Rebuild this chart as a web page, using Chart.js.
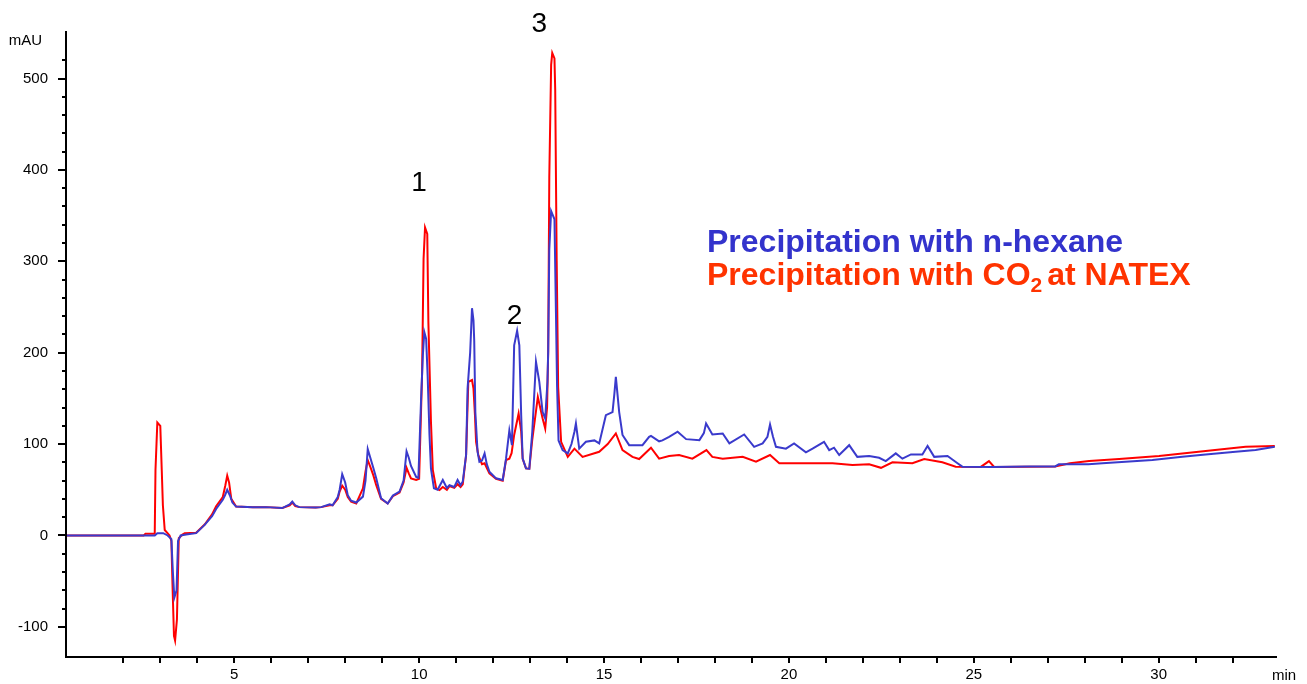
<!DOCTYPE html>
<html>
<head>
<meta charset="utf-8">
<script src="https://cdn.jsdelivr.net/npm/chart.js@4"></script>
<style>
  html, body { margin: 0; padding: 0; background: #fff; }
  canvas { display: block; }
</style>
</head>
<body>
<canvas id="chrom" width="1307" height="684"></canvas>
<script>
// retention time (min) and absorbance (mAU), n-hexane run
const hexTime = [0.45, 2.85, 2.92, 3.08, 3.2, 3.3, 3.34, 3.38, 3.44, 3.48, 3.55, 3.7, 3.97, 4.2, 4.4, 4.51, 4.69, 4.75, 4.81, 4.88, 4.95, 5.05, 5.5, 5.86, 6.3, 6.5, 6.57, 6.65, 6.76, 7.2, 7.35, 7.58, 7.66, 7.8, 7.85, 7.92, 8.0, 8.07, 8.16, 8.3, 8.48, 8.55, 8.61, 8.68, 8.76, 8.84, 8.97, 9.15, 9.29, 9.47, 9.58, 9.66, 9.72, 9.78, 9.92, 9.98, 10.05, 10.1, 10.14, 10.19, 10.23, 10.28, 10.32, 10.4, 10.5, 10.64, 10.75, 10.82, 10.95, 11.04, 11.12, 11.18, 11.27, 11.31, 11.38, 11.43, 11.47, 11.49, 11.52, 11.58, 11.63, 11.7, 11.77, 11.83, 11.9, 12.08, 12.26, 12.35, 12.44, 12.51, 12.57, 12.65, 12.71, 12.76, 12.8, 12.89, 12.98, 13.06, 13.16, 13.25, 13.34, 13.41, 13.47, 13.49, 13.52, 13.57, 13.62, 13.66, 13.7, 13.73, 13.77, 13.88, 14.02, 14.12, 14.2, 14.24, 14.33, 14.51, 14.74, 14.87, 15.05, 15.23, 15.28, 15.32, 15.41, 15.5, 15.68, 15.95, 16.04, 16.22, 16.27, 16.49, 16.58, 16.76, 16.99, 17.22, 17.58, 17.7, 17.76, 17.93, 18.21, 18.39, 18.79, 19.06, 19.29, 19.42, 19.49, 19.57, 19.65, 19.92, 20.14, 20.46, 20.64, 20.95, 21.09, 21.22, 21.36, 21.63, 21.85, 22.17, 22.44, 22.62, 22.89, 23.07, 23.3, 23.61, 23.75, 23.93, 24.29, 24.56, 24.69, 25.5, 26.5, 27.2, 27.3, 28.1, 28.48, 29.83, 30.64, 31.27, 32.08, 32.62, 33.14];
const hexMAU = [0, 0, 2.5, 2.5, 0, -4, -40, -68, -60, -6, 0, 1, 2.5, 11.6, 21, 29, 39, 44, 50, 44, 36, 31.6, 31, 31, 30, 34, 37, 33, 31, 30.5, 31, 34, 33, 42, 50, 67, 58, 44, 38, 36, 42.5, 60, 94.5, 85, 74, 62.5, 40.7, 35, 43.6, 48, 60, 92, 85, 76, 64, 63, 146, 197, 222.5, 215, 175, 110, 73, 51.6, 50, 60.7, 52, 55, 53, 60.7, 55, 59, 88, 160.7, 200, 248.7, 235, 213, 135, 91.6, 80.7, 82, 89.8, 78, 69.8, 62.5, 60.7, 84, 115, 98.8, 208, 224, 208, 131.6, 84, 73.4, 73, 113.5, 190, 168, 135, 128, 168, 200.7, 313, 355, 350, 346, 244, 164, 104, 93.4, 89.8, 100, 113.5, 122.5, 95, 102.5, 104, 100.7, 131.6, 135, 155, 173.5, 135, 110, 98.8, 98.8, 98.8, 108, 109, 103, 104, 108, 113.5, 105.4, 104.3, 112, 122.5, 110.5, 111.6, 100.7, 110.5, 97, 100.7, 108, 121.4, 108, 97, 95, 100.7, 91, 95, 102.5, 93.4, 96, 88, 98.8, 86, 87, 85, 81.4, 89.8, 84, 88.7, 88.7, 98, 86, 87, 79, 75.3, 75, 75.5, 75.5, 77.8, 77.8, 79, 82.5, 86, 88.7, 91.6, 93.4, 97];

// CO2 precipitation run
const co2Time = [0.45, 2.55, 2.6, 2.85, 2.87, 2.92, 3.0, 3.04, 3.07, 3.12, 3.25, 3.3, 3.33, 3.37, 3.4, 3.45, 3.5, 3.6, 3.66, 3.97, 4.2, 4.4, 4.51, 4.69, 4.76, 4.81, 4.86, 4.92, 5.05, 5.5, 5.86, 6.3, 6.5, 6.57, 6.65, 6.76, 7.2, 7.35, 7.58, 7.66, 7.8, 7.85, 7.92, 8.0, 8.07, 8.16, 8.3, 8.48, 8.55, 8.61, 8.68, 8.76, 8.84, 8.97, 9.15, 9.29, 9.47, 9.58, 9.66, 9.72, 9.78, 9.92, 10.0, 10.08, 10.12, 10.16, 10.22, 10.25, 10.32, 10.37, 10.46, 10.55, 10.64, 10.75, 10.82, 10.95, 11.04, 11.12, 11.18, 11.27, 11.33, 11.43, 11.47, 11.51, 11.54, 11.6, 11.7, 11.77, 11.9, 12.08, 12.26, 12.35, 12.44, 12.5, 12.57, 12.69, 12.76, 12.8, 12.89, 12.98, 13.06, 13.21, 13.34, 13.41, 13.46, 13.49, 13.52, 13.57, 13.6, 13.66, 13.68, 13.72, 13.76, 13.84, 14.02, 14.2, 14.42, 14.87, 15.1, 15.32, 15.5, 15.77, 15.95, 16.27, 16.49, 16.76, 17.03, 17.39, 17.77, 17.93, 18.21, 18.75, 19.11, 19.49, 19.74, 21.18, 21.72, 22.17, 22.49, 22.8, 23.34, 23.66, 24.15, 24.51, 25.19, 25.41, 25.55, 27.2, 27.6, 28.12, 28.93, 30.01, 31.27, 32.35, 33.14];
const co2MAU = [0, 0, 2, 2, 71.6, 123.6, 120, 71, 33, 6, 0, -6, -54, -110, -115, -92, -3, 1, 2.5, 3, 12, 23, 32, 42, 55, 65.5, 58, 40, 31.6, 31, 31, 30, 33, 36, 32, 31, 30.5, 31, 33, 33, 40, 48, 54.5, 50, 42, 37, 35, 51.6, 70, 82.5, 75, 66, 55, 40, 35, 43, 47, 58, 74, 68, 62.5, 60.7, 62, 177, 302.5, 337, 330, 233.5, 124, 71.6, 51.6, 49.7, 53, 50, 54, 52, 56, 53, 56, 88, 168, 170, 160.7, 131.6, 102.5, 88, 78, 79, 68, 62, 60, 82.5, 84, 90, 110, 133.4, 113.8, 84, 73.4, 73, 105, 151.6, 128, 117, 140, 200.7, 391.6, 515, 528, 522, 488, 300.7, 162.5, 102.5, 86, 95, 86, 91.6, 100, 111.6, 93.4, 86, 83.6, 96, 84, 87, 88, 84, 93.4, 86, 84, 86, 80.7, 88, 79, 79, 77, 77.8, 74, 80, 79, 83.6, 80, 75.3, 75, 81.4, 75, 75.5, 79, 81.4, 83.6, 87, 92.3, 97, 98];

const peakNames = ['1', '2', '3'];
const peakTime = [10.0, 12.58, 13.25];
const peakMAU = [385, 240, 559];

const seriesNames = ['Precipitation with n-hexane', 'Precipitation with CO2 at NATEX'];
const blue = '#3a3acc';
const red = '#ff0000';

function pairs(xs, ys) {
  return xs.map((x, i) => ({ x: x, y: ys[i] }));
}

// axis lines, tick marks and free text
const decorations = {
  id: 'decorations',
  afterDraw(chart) {
    const c = chart.ctx;
    const a = chart.chartArea;
    const xs = chart.scales.x;
    const ys = chart.scales.y;
    c.save();
    c.strokeStyle = '#000';
    c.lineWidth = 2;
    c.beginPath();
    c.moveTo(a.left, a.top);
    c.lineTo(a.left, a.bottom);
    c.lineTo(a.right, a.bottom);
    ys.ticks.forEach(t => {
      const y = Math.round(ys.getPixelForValue(t.value));
      const len = t.value % 100 === 0 ? 8 : 4;
      c.moveTo(a.left - len, y);
      c.lineTo(a.left, y);
    });
    xs.ticks.forEach(t => {
      const x = Math.round(xs.getPixelForValue(t.value));
      c.moveTo(x, a.bottom);
      c.lineTo(x, a.bottom + 6);
    });
    c.stroke();

    c.fillStyle = '#000';
    c.font = '15px "Liberation Sans", Arial, sans-serif';
    c.textBaseline = 'middle';
    c.textAlign = 'right';
    c.fillText('mAU', 42, 41);
    c.textAlign = 'left';
    c.fillText('min', 1272, 676);

    // peak numbers
    c.font = '28px "Liberation Sans", Arial, sans-serif';
    c.textAlign = 'center';
    peakNames.forEach((n, i) => {
      c.fillText(n, xs.getPixelForValue(peakTime[i]), ys.getPixelForValue(peakMAU[i]));
    });

    // series key
    c.textAlign = 'left';
    c.textBaseline = 'alphabetic';
    const big = 'bold 32px "Liberation Sans", Arial, sans-serif';
    const small = 'bold 21px "Liberation Sans", Arial, sans-serif';
    c.font = big;
    c.fillStyle = '#3333cc';
    c.fillText(seriesNames[0], 707, 252);
    c.fillStyle = '#ff3300';
    let x = 707;
    const head = 'Precipitation with CO';
    c.fillText(head, x, 285);
    x += c.measureText(head).width;
    c.font = small;
    c.fillText('2', x, 292);
    x += c.measureText('2').width;
    c.font = big;
    c.fillText('at NATEX', x + 5, 285);
    c.restore();
  }
};

new Chart(document.getElementById('chrom'), {
  type: 'line',
  data: {
    datasets: [
      { label: seriesNames[0], data: pairs(hexTime, hexMAU), borderColor: blue, borderWidth: 2, pointRadius: 0, tension: 0 },
      { label: seriesNames[1], data: pairs(co2Time, co2MAU), borderColor: red, borderWidth: 2, pointRadius: 0, tension: 0 }
    ]
  },
  options: {
    responsive: false,
    animation: false,
    layout: { padding: { top: 31, right: 30, left: 0, bottom: 0 } },
    plugins: { legend: { display: false }, tooltip: { enabled: false } },
    scales: {
      x: {
        type: 'linear',
        min: 0.45,
        max: 33.2,
        grid: { display: false, drawTicks: false },
        border: { display: false },
        afterBuildTicks: s => { s.ticks = s.ticks.filter(t => Number.isInteger(t.value)); },
        afterFit: s => { s.height = 25; },
        ticks: {
          stepSize: 1,
          autoSkip: false,
          maxRotation: 0,
          padding: 9,
          color: '#000',
          font: { family: '"Liberation Sans", Arial, sans-serif', size: 15 },
          callback: v => (v % 5 === 0 ? v : '')
        }
      },
      y: {
        min: -133,
        max: 552,
        grid: { display: false, drawTicks: false },
        border: { display: false },
        afterBuildTicks: s => { s.ticks = s.ticks.filter(t => t.value % 20 === 0); },
        afterFit: s => { s.width = 66; },
        ticks: {
          stepSize: 20,
          autoSkip: false,
          padding: 18,
          color: '#000',
          font: { family: '"Liberation Sans", Arial, sans-serif', size: 15 },
          callback: v => (v % 100 === 0 ? v : '')
        }
      }
    }
  },
  plugins: [decorations]
});
</script>
</body>
</html>
